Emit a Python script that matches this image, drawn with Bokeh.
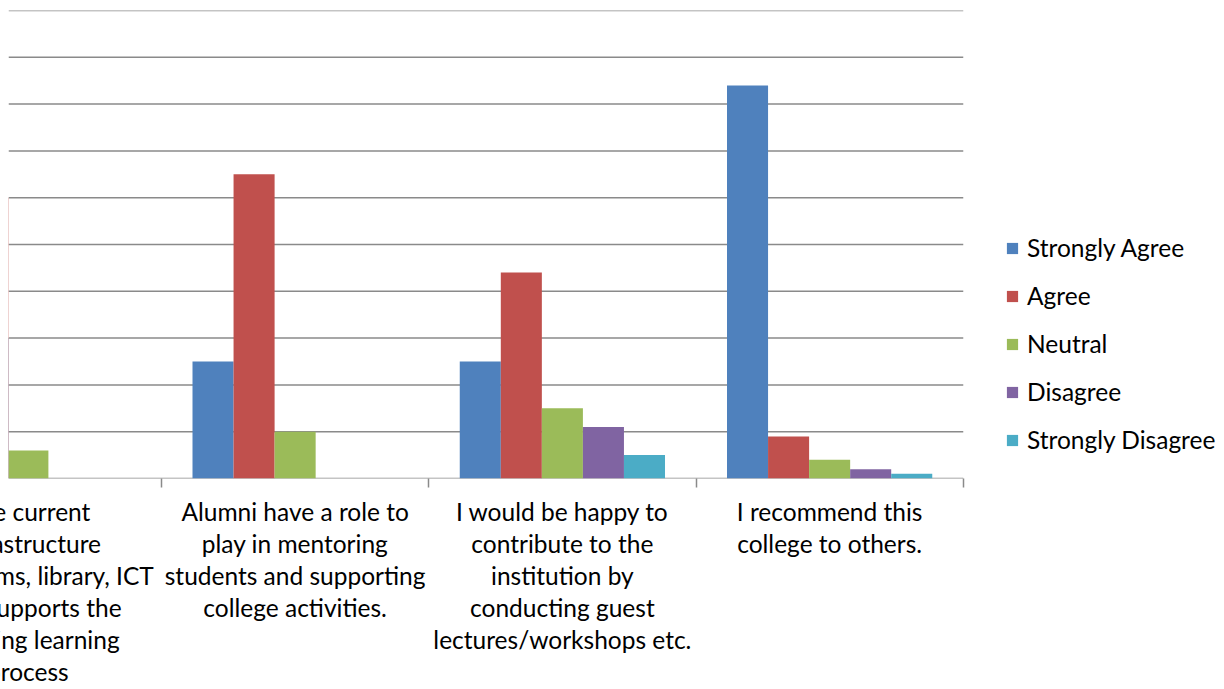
from bokeh.plotting import figure
from bokeh.models import Range1d, FixedTicker, Legend, LegendItem, ColumnDataSource
from bokeh.embed import file_html
from bokeh.resources import INLINE
import numpy as np

categories = [
    "The current\ninfrastructure\n(classrooms, library, ICT\netc.) supports the\nteaching learning\nprocess",
    "Alumni have a role to\nplay in mentoring\nstudents and supporting\ncollege activities.",
    "I would be happy to\ncontribute to the\ninstitution by\nconducting guest\nlectures/workshops etc.",
    "I recommend this\ncollege to others.",
]
series = ["Strongly Agree", "Agree", "Neutral", "Disagree", "Strongly Disagree"]
strongly_agree = [30, 25, 25, 84]
agree = [60, 65, 44, 9]
neutral = [6, 10, 15, 4]
disagree = [0, 0, 11, 2]
strongly_disagree = [0, 0, 5, 1]
gridlines = list(range(0, 101, 10))
colors = ["#4F81BD", "#C0504D", "#9BBB59", "#8064A2", "#4BACC6"]

FONT = "Lato"
FS = "24.5px"
S = 130  # hidden part of the canvas, left of the window
X0, X1 = 0.4275, 4.0          # visible part of the category axis
XR = X1 + (1220 - 963) / 267  # frame extends under the legend

p = figure(width=S + 1220, height=689, output_backend="svg", toolbar_location=None,
           x_range=Range1d(X0, XR), y_range=Range1d(0, 100),
           y_axis_location=None, min_border_left=S + 8, min_border_top=10,
           min_border_right=0, min_border_bottom=211)
p.margin = (0, 0, 0, -S)
p.outline_line_color = None
p.xgrid.visible = False
p.ygrid.visible = False

p.segment(x0=[X0] * len(gridlines), x1=[X1] * len(gridlines), y0=gridlines, y1=gridlines,
          line_color="#8a8a8a", line_width=1.5)

idx = np.arange(len(categories)) + 0.5
bw = 0.1536
offsets = (np.arange(5) - 2) * bw
vals = [strongly_agree, agree, neutral, disagree, strongly_disagree]
items = []
for i, (name, v, c) in enumerate(zip(series, vals, colors)):
    src = ColumnDataSource(dict(x=idx + offsets[i], top=v))
    r = p.vbar(x="x", top="top", width=bw, source=src, fill_color=c, line_color=None)
    items.append(LegendItem(label=name, renderers=[r]))

ax = p.xaxis[0]
ax.ticker = FixedTicker(ticks=list(idx), minor_ticks=[1, 2, 3, 4])
ax.major_label_overrides = {float(k): lab for k, lab in zip(idx, categories)}
ax.major_tick_out = 0
ax.major_tick_in = 0
ax.minor_tick_out = 9
ax.minor_tick_in = 0
ax.minor_tick_line_color = "#8a8a8a"
ax.minor_tick_line_width = 1.5
ax.axis_line_color = None
ax.major_label_text_font = FONT
ax.major_label_text_font_size = FS
ax.major_label_text_color = "#000000"
ax.major_label_text_line_height = 1.11
ax.major_label_standoff = 9

legend = Legend(items=items, location=(997, 24), padding=0, margin=0,
                border_line_color=None, background_fill_alpha=0,
                glyph_width=14, glyph_height=14, label_standoff=8, spacing=19,
                label_text_font=FONT, label_text_font_size=FS, label_text_color="#000000")
p.add_layout(legend, "center")

open("out.html", "w").write(file_html(p, INLINE))
